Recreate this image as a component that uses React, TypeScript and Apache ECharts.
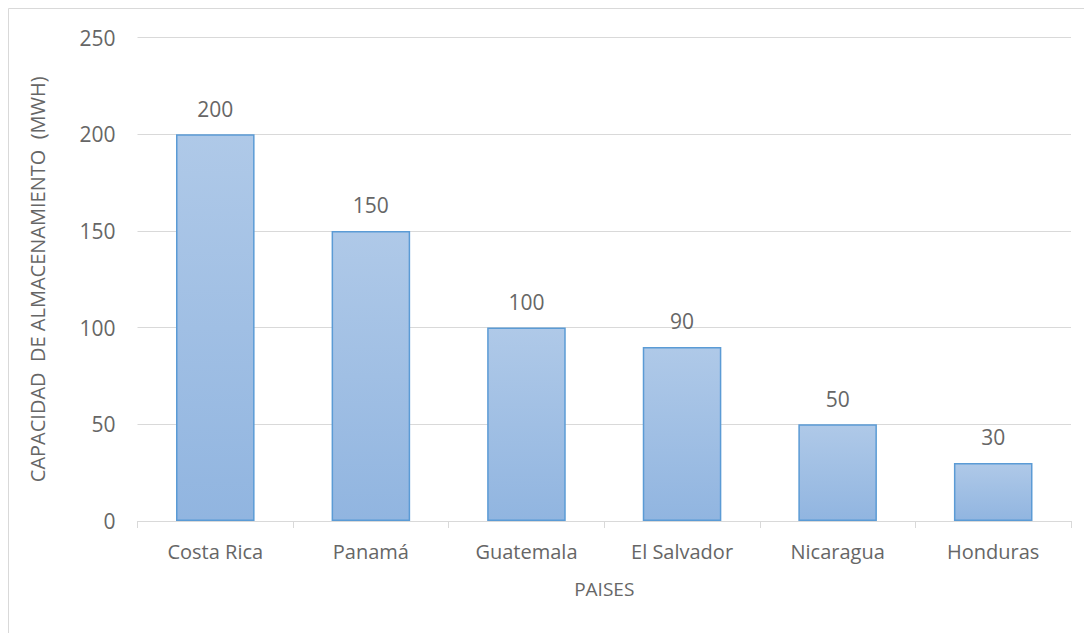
import React, { useEffect, useRef } from "react";
import * as echarts from "echarts";

const categories = ["Costa Rica", "Panamá", "Guatemala", "El Salvador", "Nicaragua", "Honduras"];
const values = [200, 150, 100, 90, 50, 30];
const yTicks = { min: 0, max: 250, interval: 50 };
const yAxisTitle = "CAPACIDAD  DE ALMACENAMIENTO  (MWH)";
const xAxisTitle = "PAISES";

const FONT = "'Open Sans', 'Noto Sans', sans-serif";
const GRAY = "#666666";

export default function App() {
  const ref = useRef<HTMLDivElement>(null);
  useEffect(() => {
    const chart = echarts.init(ref.current!, null, { renderer: "svg" });
    chart.setOption({
      animation: false,
      backgroundColor: "#ffffff",
      textStyle: { fontFamily: FONT },
      graphic: [
        {
          type: "rect",
          shape: { x: 0.5, y: 0.5, width: 1200, height: 800 },
          style: { fill: "none", stroke: "#d9d9d9", lineWidth: 1 },
          silent: true,
        },
      ],
      grid: { left: 129.5, right: 21, top: 29.5, bottom: 112, containLabel: false },
      xAxis: {
        type: "category",
        data: categories,
        name: xAxisTitle,
        nameLocation: "middle",
        nameGap: 58,
        nameTextStyle: { color: GRAY, fontSize: 19, fontFamily: FONT },
        axisLine: { lineStyle: { color: "#d9d9d9", width: 1 } },
        axisTick: { show: true, length: 7, alignWithLabel: false, lineStyle: { color: "#d9d9d9" } },
        axisLabel: { color: GRAY, fontSize: 20, margin: 20, fontFamily: FONT },
      },
      yAxis: {
        type: "value",
        min: yTicks.min,
        max: yTicks.max,
        interval: yTicks.interval,
        name: yAxisTitle,
        nameLocation: "middle",
        nameGap: 90,
        nameRotate: 90,
        nameTextStyle: { color: GRAY, fontSize: 20, fontFamily: FONT },
        axisLine: { show: false },
        axisTick: { show: false },
        axisLabel: { color: GRAY, fontSize: 21, margin: 22, fontFamily: FONT },
        splitLine: { lineStyle: { color: "#d9d9d9", width: 1 } },
      },
      series: [
        {
          type: "bar",
          data: values,
          barWidth: "50.5%",
          itemStyle: {
            color: new echarts.graphic.LinearGradient(0, 0, 0, 1, [
              { offset: 0, color: "#afc9e8" },
              { offset: 1, color: "#91b5e0" },
            ]),
            borderColor: "#5b9bd5",
            borderWidth: 1.5,
          },
          label: {
            show: true,
            position: "top",
            distance: 15,
            color: GRAY,
            fontSize: 21,
            fontFamily: FONT,
          },
        },
      ],
    });
    return () => chart.dispose();
  }, []);
  return <div ref={ref} style={{ width: 1084, height: 625 }} />;
}
